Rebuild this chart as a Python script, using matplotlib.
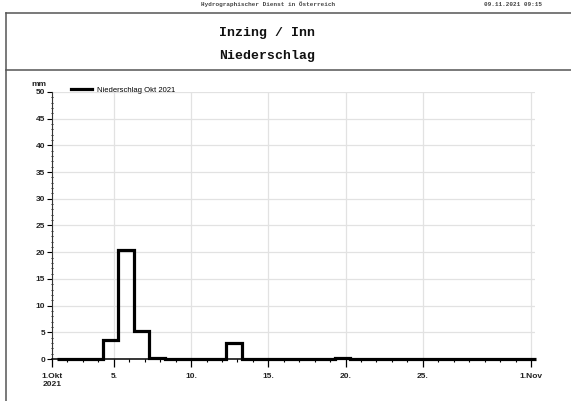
import numpy as np
import matplotlib
matplotlib.use("Agg")
import matplotlib.pyplot as plt
from matplotlib.lines import Line2D

# daily precipitation Oct 2021 (mm), each day measured 07:00 -> 07:00
day_values = [0, 0, 0, 3.6, 20.5, 5.15, 0.25, 0, 0, 0,
              0, 3.0, 0, 0, 0, 0, 0, 0, 0.2, 0,
              0, 0, 0, 0, 0, 0, 0, 0, 0, 0, 0]
tick_days = [1, 5, 10, 15, 20, 25, 32]
tick_labels = ["1.Okt\n2021", "5.", "10.", "15.", "20.", "25.", "1.Nov"]
y_ticks = [0, 5, 10, 15, 20, 25, 30, 35, 40, 45, 50]
series_name = "Niederschlag Okt 2021"

W, H = 571, 401
fig = plt.figure(figsize=(W / 100, H / 100), dpi=100)

mono = "Liberation Mono"
sans = "Liberation Sans"

# header + title box
fig.text(268 / W, 1 - 4 / H, "Hydrographischer Dienst in Österreich", family=mono,
         fontsize=4.3, weight="bold", ha="center", va="center", color="#444")
fig.text(484 / W, 1 - 4 / H, "09.11.2021 09:15", family=mono, fontsize=4.3,
         weight="bold", ha="left", va="center", color="#444")
box_col = "#555555"
fig.add_artist(Line2D([6 / W, 1], [1 - 12.5 / H] * 2, color=box_col, lw=1.1))
fig.add_artist(Line2D([6 / W, 1], [1 - 69.5 / H] * 2, color=box_col, lw=1.1))
fig.add_artist(Line2D([6 / W] * 2, [0, 1 - 12.5 / H], color=box_col, lw=1.1))
fig.text(267 / W, 1 - 33 / H, "Inzing / Inn", family=mono, weight="bold",
         fontsize=9.5, ha="center", va="center", color="#111")
fig.text(267 / W, 1 - 56 / H, "Niederschlag", family=mono, weight="bold",
         fontsize=9.5, ha="center", va="center", color="#111")

# plot area
px_day = (531 - 52) / 31
ax = fig.add_axes([52 / W, 1 - 359 / H, (535 - 52) / W, (359 - 92) / H])
ax.set_xlim(1, 1 + (535 - 52) / px_day)
ax.set_ylim(0, 50)

edges = np.arange(1, len(day_values) + 2) + 7 / 24
ax.stairs(day_values, edges, baseline=None, color="black", lw=2.3,
          clip_on=False, zorder=5, label=series_name)

ax.set_xticks(tick_days)
ax.set_xticklabels(tick_labels)
ax.set_xticks(np.arange(1, 33), minor=True)
ax.set_yticks(y_ticks)
ax.set_yticks(np.arange(0, 51), minor=True)

ax.grid(True, which="major", color="#e2e2e2", lw=0.9)
ax.set_axisbelow(True)
for s in ["top", "right"]:
    ax.spines[s].set_visible(False)
ax.spines["bottom"].set_linewidth(1.1)
ax.spines["left"].set_linewidth(0.8)
ax.spines["left"].set_color("#333")

ax.tick_params(axis="x", which="major", length=6, width=0.9, pad=4)
ax.tick_params(axis="x", which="minor", length=2.5, width=0.8)
ax.tick_params(axis="y", which="major", length=3.5, width=0.8, pad=1.5)
ax.tick_params(axis="y", which="minor", length=2, width=0.6, direction="inout")
for lab in ax.get_xticklabels() + ax.get_yticklabels():
    lab.set_family(sans)
    lab.set_weight("bold")
    lab.set_fontsize(6)
    lab.set_color("#222")

fig.text(39 / W, 1 - 85 / H, "mm", family=sans, weight="bold", fontsize=6,
         ha="center", va="center", color="#222")

ax.legend(loc="center left", bbox_to_anchor=((71 - 52) / (535 - 52), 1 + 2 / 267),
          frameon=False, borderpad=0, borderaxespad=0, handlelength=2.8,
          handletextpad=0.6, prop={"family": sans, "size": 5.5})

fig.savefig("out.png", dpi=100)
